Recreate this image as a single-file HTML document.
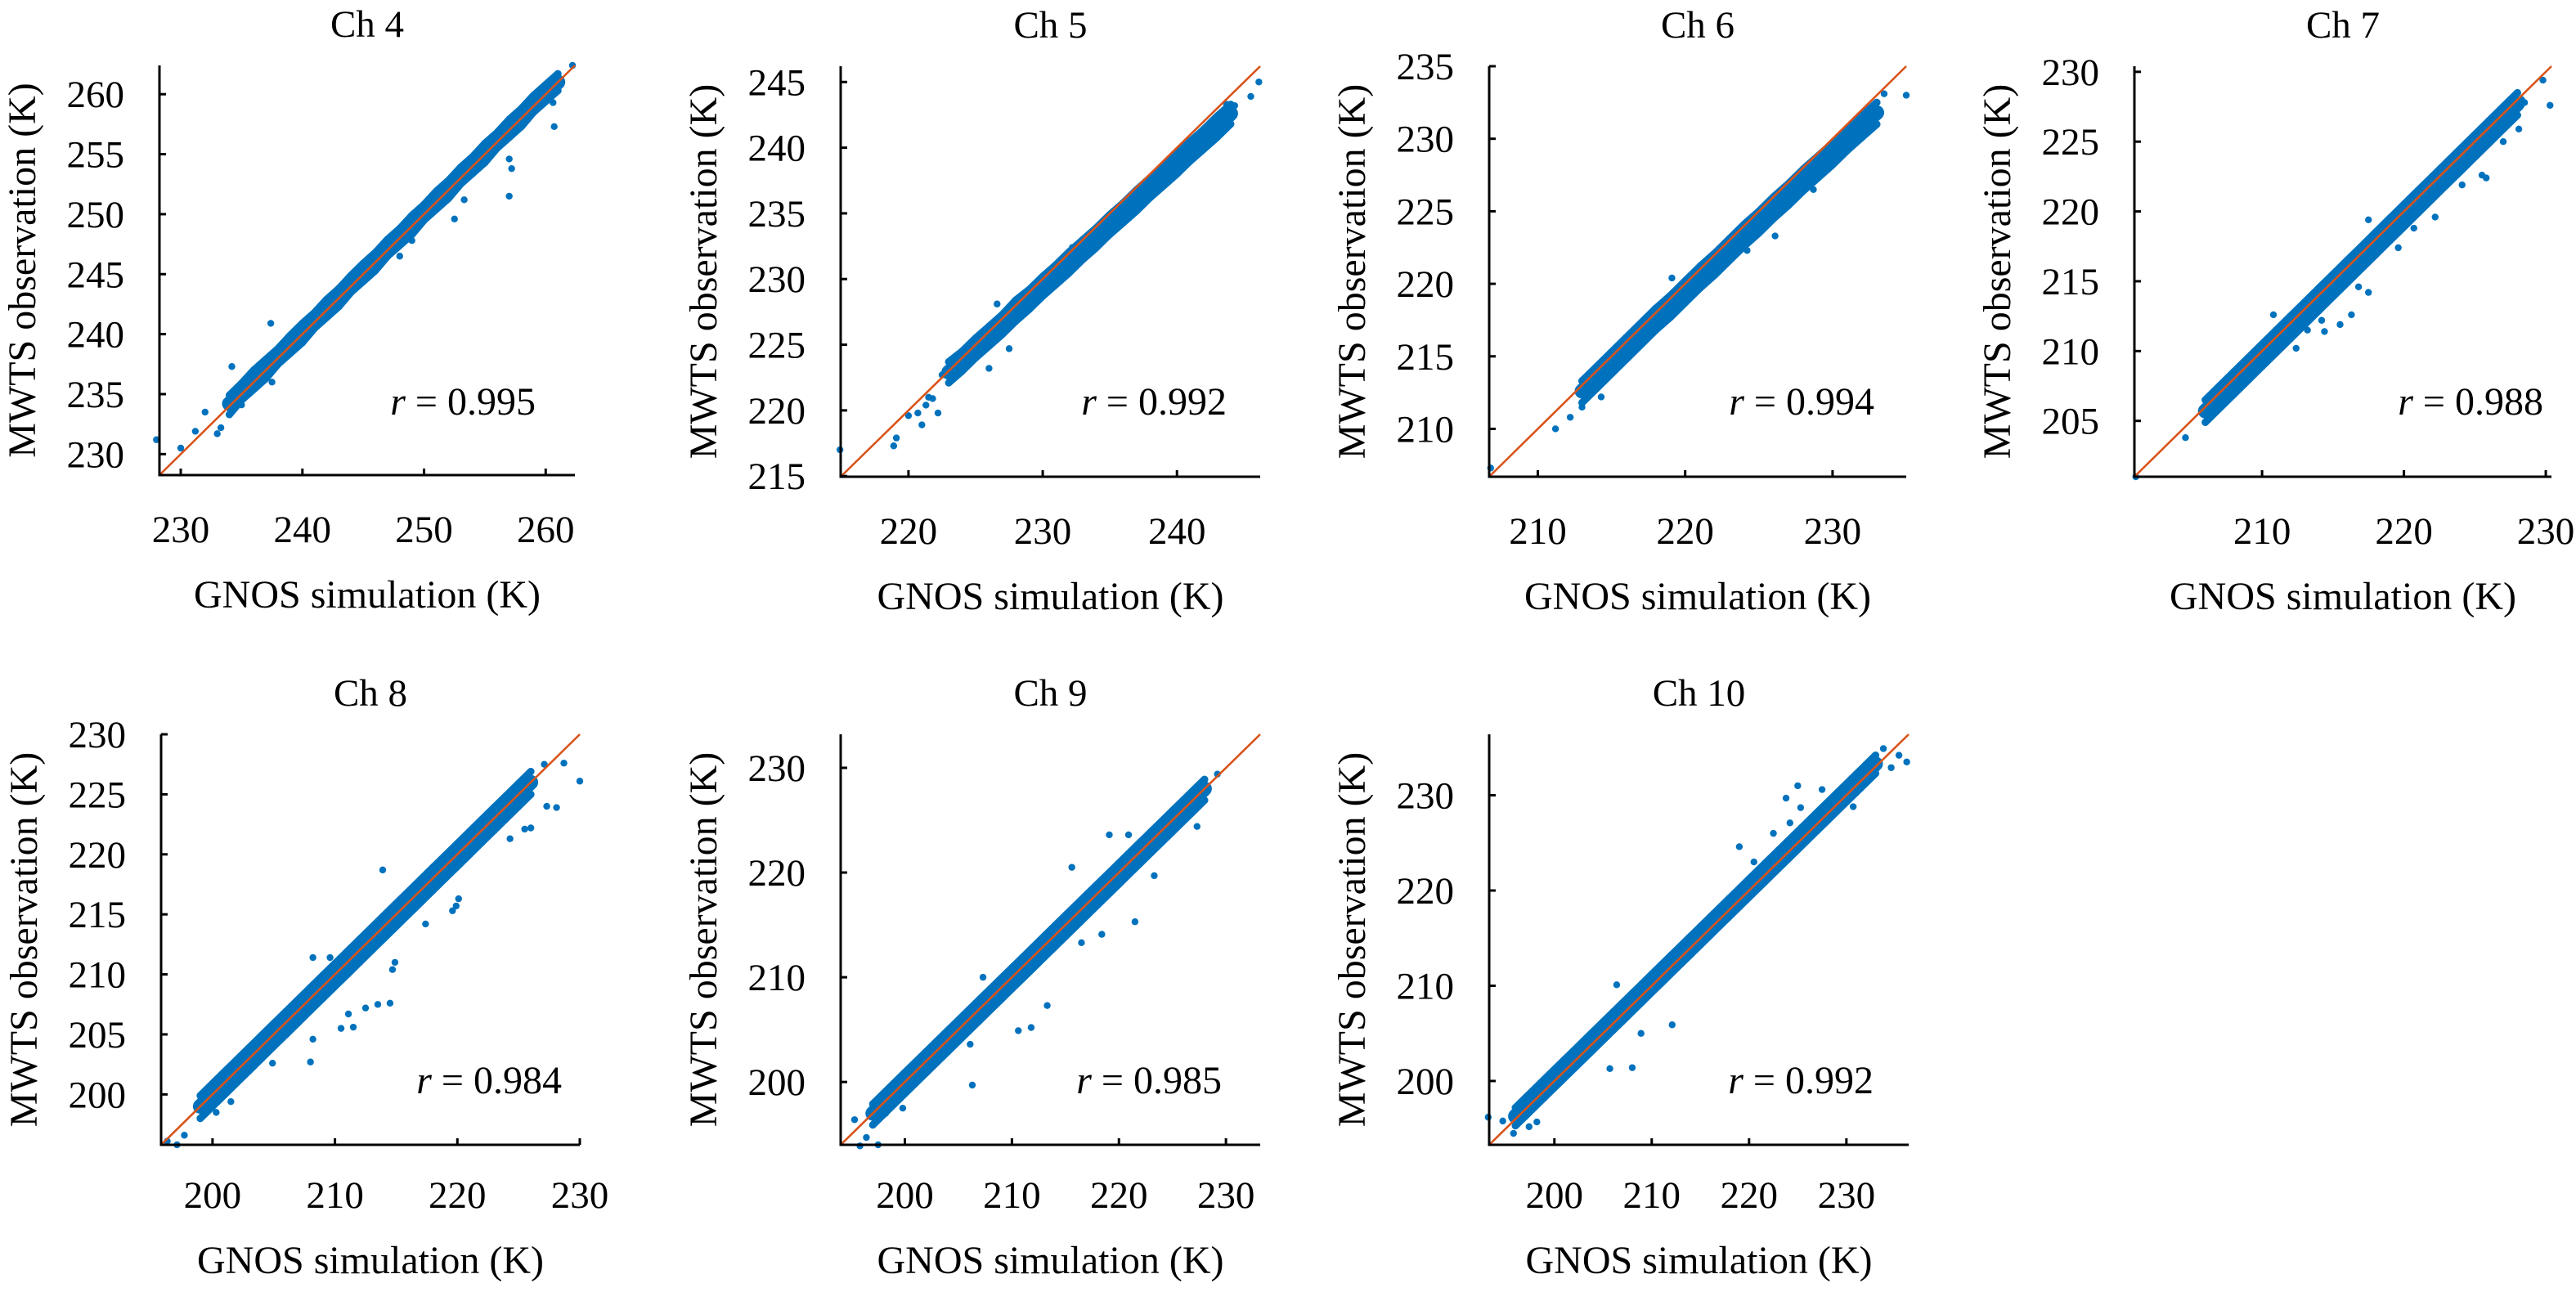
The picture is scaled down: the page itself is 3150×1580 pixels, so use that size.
<!DOCTYPE html>
<html><head><meta charset="utf-8"><style>
html,body{margin:0;padding:0;background:#fff;}
svg, svg text{font-family:"Liberation Serif","Times New Roman","Nimbus Roman","Nimbus Roman No9 L",Tinos,"DejaVu Serif",serif;}
</style></head><body>
<svg id="fig" width="3150" height="1575" viewBox="0 0 3150 1575" xmlns="http://www.w3.org/2000/svg"></svg>
<script>
// ---- data ----
const channels = ['Ch 4','Ch 5','Ch 6','Ch 7','Ch 8','Ch 9','Ch 10'];
const rValues = ['0.995','0.992','0.994','0.988','0.984','0.985','0.992'];
const axisMin = [228.25, 214.95, 206.7, 201.0, 195.8, 194.0, 193.3];
const axisMax = [262.4, 246.2, 235.0, 230.4, 230.0, 233.2, 236.4];
const xTicks = [[230,240,250,260],[220,230,240],[210,220,230],[210,220,230],[200,210,220,230],[200,210,220,230],[200,210,220,230]];
const yTicks = [[230,235,240,245,250,255,260],[215,220,225,230,235,240,245],[210,215,220,225,230,235],[205,210,215,220,225,230],[200,205,210,215,220,225,230],[200,210,220,230],[200,210,220,230]];

const ch4Sim = [234,235,236,237,238,239,240,241,242,243,244,245,246,247,248,249,250,251,252,253,254,255,256,257,258,259,260,261];
const ch4Hi  = [234.9,235.9,237.0,237.9,238.8,239.9,240.9,241.8,242.9,243.8,244.9,245.9,246.8,247.9,248.8,249.9,250.8,251.9,252.8,253.9,254.8,255.9,256.8,257.9,258.8,259.9,260.8,261.7];
const ch4Mid = [234.2,235.1,236.1,237.2,238.0,239.1,240.2,241.0,242.1,243.2,244.0,245.1,246.2,247.0,248.1,249.2,250.0,251.1,252.2,253.0,254.1,255.2,256.0,257.1,258.2,259.0,260.1,261.0];
const ch4Lo  = [233.3,234.5,235.4,236.3,237.5,238.4,239.3,240.5,241.4,242.3,243.5,244.4,245.3,246.5,247.4,248.3,249.5,250.4,251.3,252.5,253.4,254.3,255.5,256.4,257.3,258.5,259.4,260.3];
const ch4OutSim = [228.0,230.0,231.2,232.0,233.0,233.3,234.2,235.0,237.4,237.5,248.0,249.0,252.5,253.3,257.0,257.2,257.0,260.7,260.6,261.0,262.2];
const ch4OutObs = [231.2,230.5,231.9,233.5,231.7,232.2,237.3,234.1,240.9,236.0,246.5,247.8,249.6,251.2,251.5,253.8,254.6,257.3,259.3,261.7,262.4];

const ch5Sim = [223,224,225,226,227,228,229,230,231,232,233,234,235,236,237,238,239,240,241,242,243,244];
const ch5Hi  = [223.7,224.5,225.5,226.4,227.3,228.4,229.2,230.2,231.1,232.1,233.0,233.9,234.9,235.8,236.8,237.7,238.6,239.6,240.5,241.4,242.4,243.3];
const ch5Mid = [222.9,223.8,224.8,225.7,226.6,227.6,228.5,229.5,230.4,231.3,232.3,233.2,234.2,235.1,236.0,237.0,237.9,238.8,239.8,240.7,241.6,242.6];
const ch5Lo  = [222.1,223.0,224.0,224.9,225.8,226.8,227.7,228.7,229.6,230.5,231.5,232.4,233.4,234.3,235.2,236.2,237.1,238.0,239.0,239.9,240.8,241.8];
const ch5OutSim = [214.9,218.9,219.1,220.0,220.7,221.0,221.3,221.8,222.2,221.5,223.0,222.5,226.6,232.2,246.1,245.5,244.3,243.7,226.0,227.5];
const ch5OutObs = [217.0,217.3,217.9,219.6,219.8,218.9,220.4,220.9,219.8,221.0,223.7,222.7,228.1,232.4,245.0,243.9,243.2,243.3,223.2,224.7];

const ch6Sim = [213,214,215,216,217,218,219,220,221,222,223,224,225,226,227,228,229,230,231,232,233];
const ch6Hi  = [213.3,214.3,215.3,216.3,217.3,218.3,219.2,220.2,221.2,222.1,223.1,224.1,225.0,226.0,226.9,227.9,228.8,229.7,230.7,231.6,232.5];
const ch6Mid = [212.6,213.6,214.6,215.6,216.6,217.6,218.5,219.5,220.5,221.4,222.4,223.4,224.3,225.3,226.2,227.2,228.1,229.0,230.0,230.9,231.8];
const ch6Lo  = [211.8,212.8,213.8,214.8,215.8,216.8,217.7,218.7,219.7,220.6,221.6,222.6,223.5,224.5,225.4,226.4,227.3,228.2,229.2,230.1,231.0];
const ch6OutSim = [206.8,211.2,212.2,213.0,213.5,214.3,219.1,233.5,235.0,232.6,228.7,226.1,224.2,222.2];
const ch6OutObs = [207.3,210.0,210.8,211.5,213.8,212.2,220.4,233.1,233.0,230.9,226.5,223.3,222.3,221.2];

const ch7Sim = [206,207,208,209,210,211,212,213,214,215,216,217,218,219,220,221,222,223,224,225,226,227,228];
const ch7Hi  = [206.5,207.5,208.5,209.5,210.5,211.5,212.5,213.5,214.5,215.5,216.5,217.5,218.5,219.5,220.5,221.5,222.5,223.5,224.5,225.5,226.5,227.5,228.5];
const ch7Mid = [205.7,206.7,207.7,208.7,209.7,210.7,211.7,212.7,213.7,214.7,215.7,216.7,217.7,218.7,219.7,220.7,221.7,222.7,223.7,224.7,225.7,226.7,227.7];
const ch7Lo  = [204.9,205.9,206.9,207.9,208.9,209.9,210.9,211.9,212.9,213.9,214.9,215.9,216.9,217.9,218.9,219.9,220.9,221.9,222.9,223.9,224.9,225.9,226.9];
const ch7OutSim = [201.1,204.6,210.8,212.4,214.4,215.5,216.3,217.5,219.6,220.7,222.2,224.1,225.5,225.8,227.0,228.1,229.8,230.3,228.5,228.3,226.8,217.5,213.2,214.2,216.8];
const ch7OutObs = [201.0,203.8,212.6,210.2,211.4,211.9,212.6,214.2,217.4,218.8,219.6,221.9,222.6,222.4,225.0,225.9,229.4,227.6,227.8,228.0,227.1,219.4,211.5,212.2,214.6];

const ch8Sim = [199,200,201,202,203,204,205,206,207,208,209,210,211,212,213,214,215,216,217,218,219,220,221,222,223,224,225,226];
const ch8Hi  = [199.9,200.9,201.9,202.9,203.9,204.9,205.9,206.9,207.9,208.9,209.9,210.9,211.9,212.9,213.9,214.9,215.9,216.9,217.9,218.9,219.9,220.9,221.9,222.9,223.9,224.9,225.9,226.9];
const ch8Mid = [199.0,200.0,201.0,202.0,203.0,204.0,205.0,206.0,207.0,208.0,209.0,210.0,211.0,212.0,213.0,214.0,215.0,216.0,217.0,218.0,219.0,220.0,221.0,222.0,223.0,224.0,225.0,226.0];
const ch8Lo  = [198.0,199.0,200.0,201.0,202.0,203.0,204.0,205.0,206.0,207.0,208.0,209.0,210.0,211.0,212.0,213.0,214.0,215.0,216.0,217.0,218.0,219.0,220.0,221.0,222.0,223.0,224.0,225.0];
const ch8OutSim = [196.3,197.1,197.7,200.3,201.5,204.9,208.0,208.2,211.1,212.5,213.5,214.5,214.7,214.9,217.4,219.6,219.9,220.1,224.3,225.5,226.0,227.3,228.1,230.0,228.7,227.1,208.2,209.6,213.9,210.5,211.5];
const ch8OutObs = [196.1,195.8,196.6,198.5,199.4,202.6,202.7,204.6,206.7,207.2,207.5,207.6,210.4,211.0,214.2,215.3,215.7,216.3,221.3,222.1,222.2,224.0,223.9,226.1,227.6,227.5,211.4,211.4,218.7,205.5,205.6];

const ch9Sim = [197,198,199,200,201,202,203,204,205,206,207,208,209,210,211,212,213,214,215,216,217,218,219,220,221,222,223,224,225,226,227,228];
const ch9Hi  = [197.9,198.9,199.9,200.9,201.9,202.9,203.9,204.9,205.9,206.9,207.9,208.9,209.9,210.9,211.9,212.9,213.9,214.9,215.9,216.9,217.9,218.9,219.9,220.9,221.9,222.9,223.9,224.9,225.9,226.9,227.9,228.9];
const ch9Mid = [197.0,198.0,199.0,200.0,201.0,202.0,203.0,204.0,205.0,206.0,207.0,208.0,209.0,210.0,211.0,212.0,213.0,214.0,215.0,216.0,217.0,218.0,219.0,220.0,221.0,222.0,223.0,224.0,225.0,226.0,227.0,228.0];
const ch9Lo  = [195.9,196.9,197.9,198.9,199.9,200.9,201.9,202.9,203.9,204.9,205.9,206.9,207.9,208.9,209.9,210.9,211.9,212.9,213.9,214.9,215.9,216.9,217.9,218.9,219.9,220.9,221.9,222.9,223.9,224.9,225.9,226.9];
const ch9OutSim = [195.3,195.8,197.5,196.4,198.2,199.8,206.3,207.3,210.6,211.8,213.3,219.1,220.9,215.6,221.5,223.3,227.3,229.2,228.0,225.5,218.4,216.5,206.1];
const ch9OutObs = [196.4,193.9,194.0,194.7,197.0,197.5,199.7,210.0,204.9,205.2,207.3,223.6,223.6,220.5,215.3,219.7,224.4,229.4,228.3,225.8,214.1,213.3,203.6];

const ch10Sim = [196,197,198,199,200,201,202,203,204,205,206,207,208,209,210,211,212,213,214,215,216,217,218,219,220,221,222,223,224,225,226,227,228,229,230,231,232,233];
const ch10Hi  = [197.2,198.2,199.2,200.2,201.2,202.2,203.2,204.2,205.2,206.2,207.2,208.2,209.2,210.2,211.2,212.2,213.2,214.2,215.2,216.2,217.2,218.2,219.2,220.2,221.2,222.2,223.2,224.2,225.2,226.2,227.2,228.2,229.2,230.2,231.2,232.2,233.2,234.2];
const ch10Mid = [196.3,197.3,198.3,199.3,200.3,201.3,202.3,203.3,204.3,205.3,206.3,207.3,208.3,209.3,210.3,211.3,212.3,213.3,214.3,215.3,216.3,217.3,218.3,219.3,220.3,221.3,222.3,223.3,224.3,225.3,226.3,227.3,228.3,229.3,230.3,231.3,232.3,233.3];
const ch10Lo  = [195.3,196.3,197.3,198.3,199.3,200.3,201.3,202.3,203.3,204.3,205.3,206.3,207.3,208.3,209.3,210.3,211.3,212.3,213.3,214.3,215.3,216.3,217.3,218.3,219.3,220.3,221.3,222.3,223.3,224.3,225.3,226.3,227.3,228.3,229.3,230.3,231.3,232.3];
const ch10OutSim = [193.2,194.7,195.8,197.4,198.2,206.4,208.0,205.7,212.1,208.9,219.0,220.5,223.8,225.0,227.5,233.8,235.4,236.2,234.6,230.7,225.3,222.5,224.2];
const ch10OutObs = [196.2,195.8,194.5,195.2,195.7,210.1,201.4,201.3,205.9,205.0,224.6,223.0,229.7,231.0,230.6,234.9,234.2,233.5,232.9,228.8,228.7,226.0,227.1];

const bandSim = [ch4Sim,ch5Sim,ch6Sim,ch7Sim,ch8Sim,ch9Sim,ch10Sim];
const bandObs = [[ch4Hi,ch4Mid,ch4Lo],[ch5Hi,ch5Mid,ch5Lo],[ch6Hi,ch6Mid,ch6Lo],[ch7Hi,ch7Mid,ch7Lo],[ch8Hi,ch8Mid,ch8Lo],[ch9Hi,ch9Mid,ch9Lo],[ch10Hi,ch10Mid,ch10Lo]];
const outSim = [ch4OutSim,ch5OutSim,ch6OutSim,ch7OutSim,ch8OutSim,ch9OutSim,ch10OutSim];
const outObs = [ch4OutObs,ch5OutObs,ch6OutObs,ch7OutObs,ch8OutObs,ch9OutObs,ch10OutObs];

// ---- layout ----
const boxes = [
  {l:195,t:80,w:508,h:501,rx:655,ry:507},
  {l:1028,t:81,w:513,h:502,rx:1500,ry:507},
  {l:1821,t:81,w:510,h:502,rx:2292,ry:507},
  {l:2610,t:81,w:510,h:502,rx:3110,ry:507},
  {l:197,t:898,w:512,h:502,rx:687,ry:1337},
  {l:1028,t:898,w:513,h:502,rx:1494,ry:1337},
  {l:1821,t:898,w:513,h:502,rx:2291,ry:1337}
];
const NS='http://www.w3.org/2000/svg';
const svg=document.getElementById('fig');
function mk(tag,attrs,parent){const e=document.createElementNS(NS,tag);for(const k in attrs)e.setAttribute(k,attrs[k]);(parent||svg).appendChild(e);return e;}

channels.forEach((ch,i)=>{
  const b=boxes[i], lo=axisMin[i], hi=axisMax[i];
  const sx=v=>b.l+(v-lo)/(hi-lo)*b.w;
  const sy=v=>b.t+b.h-(v-lo)/(hi-lo)*b.h;
  const g=mk('g',{});
  
  
  const title=mk('text',{x:b.l+b.w/2,y:b.t-35,'font-size':47,'text-anchor':'middle'},g);
  title.textContent=ch;
  
  
  const pts=mk('g',{fill:'#0072BD'},g);
  
  
  bandObs[i].forEach((arr,k)=>{
    const d=bandSim[i].map((x,j)=>(j?'L':'M')+sx(x).toFixed(1)+','+sy(arr[j]).toFixed(1)).join('');
    const p=mk('path',{d:d,fill:'none',stroke:'#0072BD','stroke-width':k===1?18:9,'stroke-linecap':'round','stroke-linejoin':'round'},pts);
    
    
  });
  bandSim[i].forEach((x,j)=>{
    bandObs[i].forEach(arr=>{
      const c=mk('circle',{cx:sx(x),cy:sy(arr[j]),r:4.5},pts);
      
      
    });
  });
  outSim[i].forEach((x,j)=>{
    const c=mk('circle',{cx:sx(x),cy:sy(outObs[i][j]),r:4.2},pts);
    
    
  });
  const ln=mk('line',{x1:sx(lo),y1:sy(lo),x2:sx(hi),y2:sy(hi),stroke:'#D95319','stroke-width':2.6},g);
  
  
  const ax=mk('path',{d:`M${b.l},${b.t}V${b.t+b.h}H${b.l+b.w}`,fill:'none',stroke:'#000','stroke-width':3},g);
  
  
  xTicks[i].forEach(v=>{
    const x=sx(v);
    const t=mk('line',{x1:x,y1:b.t+b.h,x2:x,y2:b.t+b.h-8,stroke:'#000','stroke-width':3},g);
    
    
    const lb=mk('text',{x:x,y:b.t+b.h+(i<4?82:77),'font-size':47,'text-anchor':'middle'},g);
    lb.textContent=v;
    
    
  });
  yTicks[i].forEach(v=>{
    const y=sy(v);
    const t=mk('line',{x1:b.l,y1:y,x2:b.l+8,y2:y,stroke:'#000','stroke-width':3},g);
    
    
    const lb=mk('text',{x:b.l-43,y:y+16,'font-size':47,'text-anchor':'end'},g);
    lb.textContent=v;
    
    
  });
  const xl=mk('text',{x:b.l+b.w/2,y:b.t+b.h+(i<4?162:157),'font-size':48,'text-anchor':'middle'},g);
  xl.textContent='GNOS simulation (K)';
  
  
  const cy=b.t+b.h/2, cx=b.l-168;
  const yl=mk('text',{x:cx,y:cy,'font-size':48,'text-anchor':'middle',transform:`rotate(-90 ${cx} ${cy})`,dy:16},g);
  yl.textContent='MWTS observation (K)';
  
  
  const rt=mk('text',{x:b.rx,y:b.ry,'font-size':48,'text-anchor':'end'},g);
  
  
  const it=mk('tspan',{'font-style':'italic'},rt); it.textContent='r';
  const rest=mk('tspan',{},rt); rest.textContent=' = '+rValues[i];
});
</script>
</body></html>
